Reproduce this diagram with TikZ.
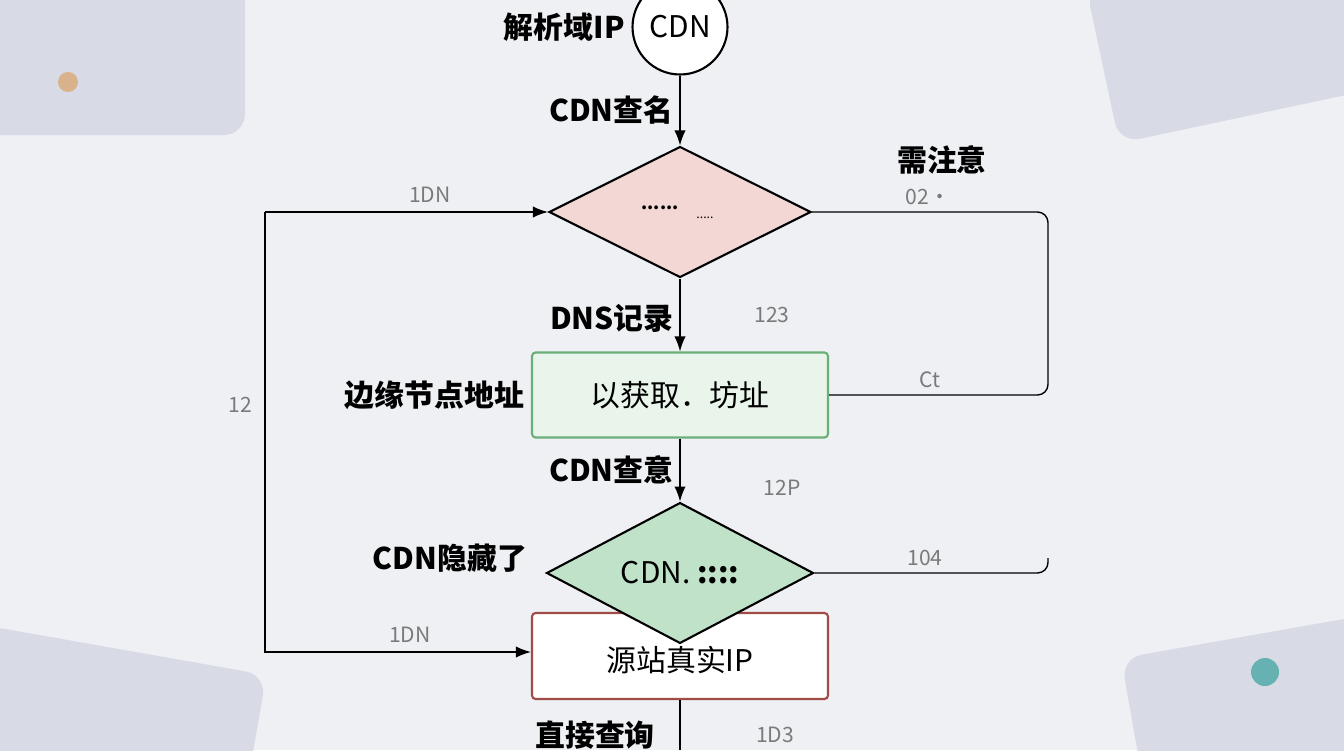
\documentclass[tikz,border=0pt]{standalone}
\usepackage{fontspec}
\setmainfont{Noto Sans CJK SC}
\usetikzlibrary{shapes.geometric,arrows.meta}
\definecolor{bgc}{HTML}{EEF0F4}
\definecolor{panel}{HTML}{D8DBE6}
\definecolor{pinkf}{HTML}{F2D7D5}
\definecolor{greenf}{HTML}{BFE2C8}
\definecolor{boxg}{HTML}{E9F5EB}
\definecolor{boxgd}{HTML}{6AAF78}
\definecolor{boxr}{HTML}{A04B45}
\definecolor{numc}{HTML}{7A7A7A}
\tikzset{
  lbl/.style={font=\fontsize{17}{17}\selectfont\bfseries},
  num/.style={font=\fontsize{12}{12}\selectfont, text=numc},
  flow/.style={thick, -{Latex[length=3mm]}},
}
\begin{document}
\begin{tikzpicture}[x=0.02cm,y=-0.02cm,line width=1.2pt]
        \useasboundingbox (0,0) rectangle (1344,750);
        \fill[bgc] (0,0) rectangle (1344,750);
        % corner panels
        \fill[panel, rounded corners=12pt] (-20,-20) rectangle (245,135);
        \fill[panel, rounded corners=12pt, rotate around={12:(1220,40)}] (1100,-40) rectangle (1380,120);
        \fill[panel, rounded corners=12pt, rotate around={-10:(120,700)}] (-30,650) rectangle (260,800);
        \fill[panel, rounded corners=12pt, rotate around={10:(1230,700)}] (1130,640) rectangle (1380,800);
        \fill[brown!60] (68,82) circle (10);
        \fill[teal!60] (1265,672) circle (14);

        \coordinate (LT) at (265,212);
        \coordinate (LB) at (265,652);
        \coordinate (RT) at (1048,212);
        \coordinate (RB) at (1048,395);
        \coordinate (RH) at (1048,573);
        \coordinate (END) at (680,750);

        \node[draw,circle,minimum size=1.9cm,fill=white,font=\fontsize{17}{17}\selectfont] (cdn) at (680,27) {CDN};
        \node[draw,fill=boxg,draw=boxgd,minimum width=5.92cm,minimum height=1.7cm,rounded corners=2pt,font=\fontsize{17}{17}\selectfont] (addr) at (680,395) {以获取．坊址};
        \node[draw=boxr,fill=white,minimum width=5.92cm,minimum height=1.72cm,rounded corners=2pt] (src) at (680,656) {};
        \node[draw,diamond,fill=pinkf,minimum width=5.24cm,minimum height=2.62cm,inner sep=0pt] (chk) at (680,212) {};
        \node[draw,diamond,fill=greenf,minimum width=5.34cm,minimum height=2.6cm,inner sep=0pt,font=\fontsize{17}{17}\selectfont] (hid) at (680,573) {CDN. \textbf{::::}};
        \node[font=\fontsize{17}{17}\selectfont] at (680,660) {源站真实IP};
        \node[font=\bfseries] at (660,208) {......};
        \node[font=\scriptsize] at (705,218) {.....};

        \draw[flow] (cdn) -- node[lbl,left]{CDN查名} (chk.north);
        \draw[flow] (chk.south) -- node[lbl,left,pos=0.55]{DNS记录} (addr.north);
        \draw[flow] (addr.south) -- node[lbl,left]{CDN查意} (hid.north);
        \draw[thick] (src.south) -- (END);
        \draw[thick,rounded corners=6pt] (chk.east) -- (RT) -- (RB) -- (addr.east);
        \draw[thick,rounded corners=6pt] (hid.east) -- (RH) -- ++(0,-15);
        \draw[flow] (LT) -- (chk.west);
        \draw[flow] (LT) -- (LB) -- (src.west|-LB);

        \node[lbl,anchor=east] at (cdn.west) {解析域IP};
        \node[lbl] at (942,160) {需注意};
        \node[lbl,anchor=east] at (addr.west) {边缘节点地址};
        \node[lbl] at (450,558) {CDN隐藏了};
        \node[lbl] at (595,735) {直接查询};
        \node[num] at (430,195) {1DN};
        \node[num] at (928,197) {02·};
        \node[num] at (772,315) {123};
        \node[num] at (930,380) {Ct};
        \node[num] at (240,405) {12};
        \node[num] at (782,488) {12P};
        \node[num] at (925,558) {104};
        \node[num] at (410,635) {1DN};
        \node[num] at (775,735) {1D3};
    \end{tikzpicture}
\end{document}
